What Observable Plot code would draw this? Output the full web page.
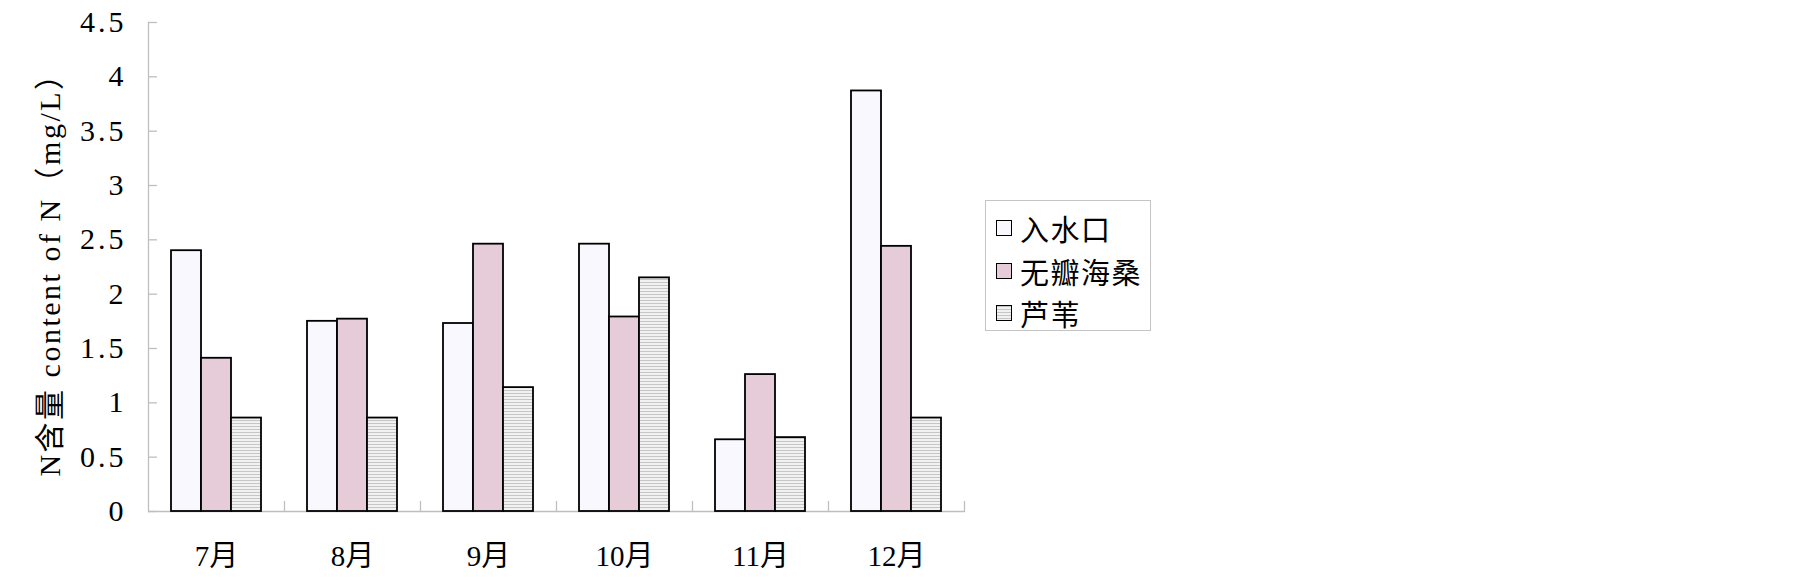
<!DOCTYPE html>
<html>
<head>
<meta charset="utf-8">
<script src="https://cdn.jsdelivr.net/npm/d3@7"></script>
<script src="https://cdn.jsdelivr.net/npm/@observablehq/plot@0.6"></script>
<style>
  html, body { margin: 0; padding: 0; background: #fff; }
  #wrap { position: relative; width: 1799px; height: 585px; }
  #legend {
    position: absolute; left: 985px; top: 200px; width: 164px; height: 129px;
    border: 1px solid #c4c4c4; box-sizing: content-box;
    font-family: "Noto Sans CJK SC", sans-serif; font-size: 29px; color: #000;
  }
  .row { position: absolute; left: 10px; height: 32px; display: flex; align-items: center; }
  .sw { width: 14px; height: 14px; border: 1.6px solid #000; margin-right: 8px; }
  .lab { letter-spacing: 1.5px; line-height: 32px; }
</style>
</head>
<body>
<div id="wrap">
  <div id="chart"></div>
  <div id="legend"></div>
</div>
<script>
const months = ["7月", "8月", "9月", "10月", "11月", "12月"];
const series = ["入水口", "无瓣海桑", "芦苇"];
const inflow = [2.40, 1.75, 1.73, 2.46, 0.66, 3.87];
const sonneratia = [1.41, 1.77, 2.46, 1.79, 1.26, 2.44];
const phragmites = [0.86, 0.86, 1.14, 2.15, 0.68, 0.86];
const yTicks = [0, 0.5, 1, 1.5, 2, 2.5, 3, 3.5, 4, 4.5];
const yTitle = "N含量 content of N（mg/L）";
const fills = ["#f9f8ff", "#e6cbd9", "url(#reedPattern)"];

const valuesBySeries = [inflow, sonneratia, phragmites];
const data = months.flatMap((m, i) =>
  series.map((s, j) => ({ month: m, series: s, value: valuesBySeries[j][i] }))
);

const W = 1799, H = 585;
const mTop = 22, mBottom = 74, mLeft = 147, mRight = 835;
const tickLen = 10;
const font = '"Liberation Serif", "Noto Sans CJK SC", serif';
const axisGray = "#bfbfbf";

const chart = Plot.plot({
  width: W, height: H,
  marginTop: mTop, marginBottom: mBottom, marginLeft: mLeft, marginRight: mRight,
  style: { fontFamily: font, fontSize: "29px", color: "#000", background: "#fff" },
  fx: { domain: months, padding: 0, label: null },
  x: { domain: series, paddingInner: 0, paddingOuter: 0.74, axis: null },
  y: { domain: [0, 4.5] },
  color: { domain: series, range: fills },
  marks: [
    Plot.frame({ anchor: "right", insetTop: H - mTop - mBottom - tickLen, stroke: axisGray, strokeWidth: 1.3 }),
    Plot.frame({ anchor: "left", facetAnchor: "left", stroke: axisGray, strokeWidth: 1.3 }),
    Plot.ruleY([0], { stroke: axisGray, strokeWidth: 1.5 }),
    Plot.barY(data, { fx: "month", x: "series", y: "value", fill: "series", stroke: "#000", strokeWidth: 1.8 }),
    Plot.axisY({ ticks: yTicks, tickSize: -9, tickFormat: () => "", stroke: axisGray, strokeWidth: 1.3, label: null }),
    Plot.axisY({
      ticks: yTicks, tickSize: 0, tickPadding: 22, tickFormat: d => String(d), fontSize: 30,
      label: yTitle, labelAnchor: "center", labelArrow: "none", labelOffset: 110
    }),
    Plot.axisFx({ anchor: "bottom", tickSize: 0, tickPadding: 34, fontSize: 29, label: null })
  ]
});

// stripe pattern for 芦苇
const svgNS = "http://www.w3.org/2000/svg";
const svg = chart.tagName.toLowerCase() === "svg" ? chart : chart.querySelector("svg");
const defs = document.createElementNS(svgNS, "defs");
defs.innerHTML = `<pattern id="reedPattern" patternUnits="userSpaceOnUse" width="6" height="3">
  <rect width="6" height="3" fill="#f1f1f1"></rect>
  <rect width="6" height="1" fill="#c6c6c6"></rect>
</pattern>`;
svg.insertBefore(defs, svg.firstChild);
svg.querySelectorAll("text").forEach(t => { if (t.textContent === yTitle) t.setAttribute("letter-spacing", "2.5"); });
svg.querySelectorAll('g[aria-label="y-axis tick label"]').forEach(g => g.setAttribute("letter-spacing", "3"));

document.getElementById("chart").appendChild(chart);

// legend
const legend = document.getElementById("legend");
const swFills = ["#f9f8ff", "#e6cbd9", "repeating-linear-gradient(to bottom, #c6c6c6 0 1px, #f1f1f1 1px 3px)"];
series.forEach((s, j) => {
  const row = document.createElement("div");
  row.className = "row";
  row.style.top = (11 + j * 42.5) + "px";
  const sw = document.createElement("div");
  sw.className = "sw";
  sw.style.background = swFills[j];
  const lab = document.createElement("span");
  lab.className = "lab";
  lab.textContent = s;
  row.appendChild(sw); row.appendChild(lab);
  legend.appendChild(row);
});
</script>
</body>
</html>
